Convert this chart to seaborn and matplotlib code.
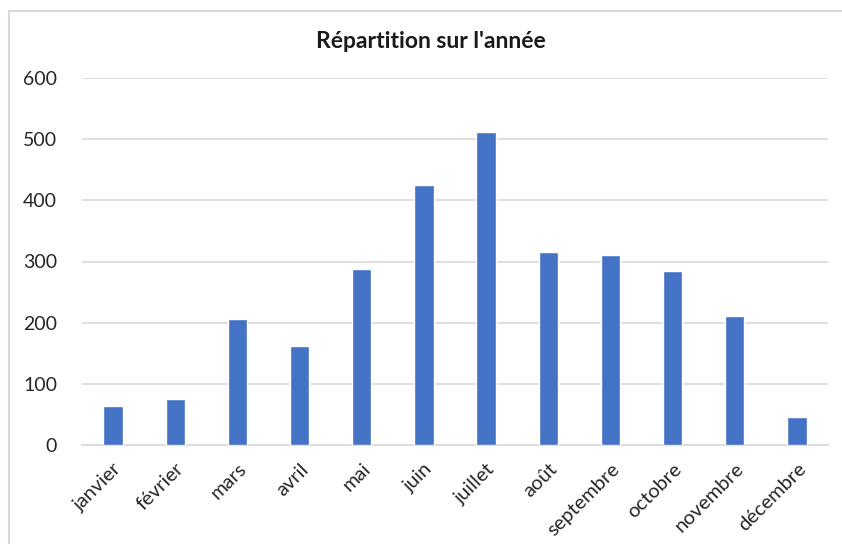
import matplotlib
matplotlib.use("Agg")
import matplotlib.pyplot as plt
import seaborn as sns
import pandas as pd
from matplotlib.patches import Rectangle

months = ["janvier", "février", "mars", "avril", "mai", "juin", "juillet",
          "août", "septembre", "octobre", "novembre", "décembre"]
values = [64, 75, 206, 162, 288, 425, 512, 315, 311, 285, 211, 45]
yticks = [0, 100, 200, 300, 400, 500, 600]
title = "Répartition sur l'année"

sns.set_theme(style="white")
plt.rcParams['font.family'] = ['Lato', 'DejaVu Sans']

df = pd.DataFrame({"mois": months, "valeur": values})

fig = plt.figure(figsize=(8.42, 5.44), dpi=100)
ax = fig.add_axes([82/842, 1 - 445/544, (828-82)/842, (445-78)/544])

sns.barplot(data=df, x="mois", y="valeur", color="#4472C4", width=0.31,
            saturation=1, ax=ax, zorder=3)

ax.set_ylim(0, 600)
ax.set_xlim(-0.5, len(months) - 0.5)
ax.set_yticks(yticks)
ax.set_yticklabels([str(t) for t in yticks], fontsize=14, color="#262626")
ax.yaxis.grid(True, color="#D9D9D9", linewidth=1.2, zorder=0)
ax.xaxis.grid(False)
for s in ["top", "right", "left"]:
    ax.spines[s].set_visible(False)
ax.spines["bottom"].set_color("#D9D9D9")
ax.spines["bottom"].set_linewidth(1.2)
ax.tick_params(axis="y", length=0, pad=18)
ax.tick_params(axis="x", length=0, pad=11)
ax.set_xticks(range(len(months)))
ax.set_xticklabels(months, rotation=45, ha="right", rotation_mode="anchor",
                   fontsize=14.5, color="#262626")
ax.set_xlabel("")
ax.set_ylabel("")

fig.text(431/842, 1 - 42/544, title, ha="center", va="center",
         fontsize=16.5, fontweight="bold", color="#1a1a1a")

fig.patches.append(Rectangle((8.5/842, -0.1), 1.0, 1 - 11/544 + 0.1,
                             transform=fig.transFigure, fill=False,
                             edgecolor="#D9D9D9", linewidth=1.5))

fig.savefig("out.png", dpi=100)
